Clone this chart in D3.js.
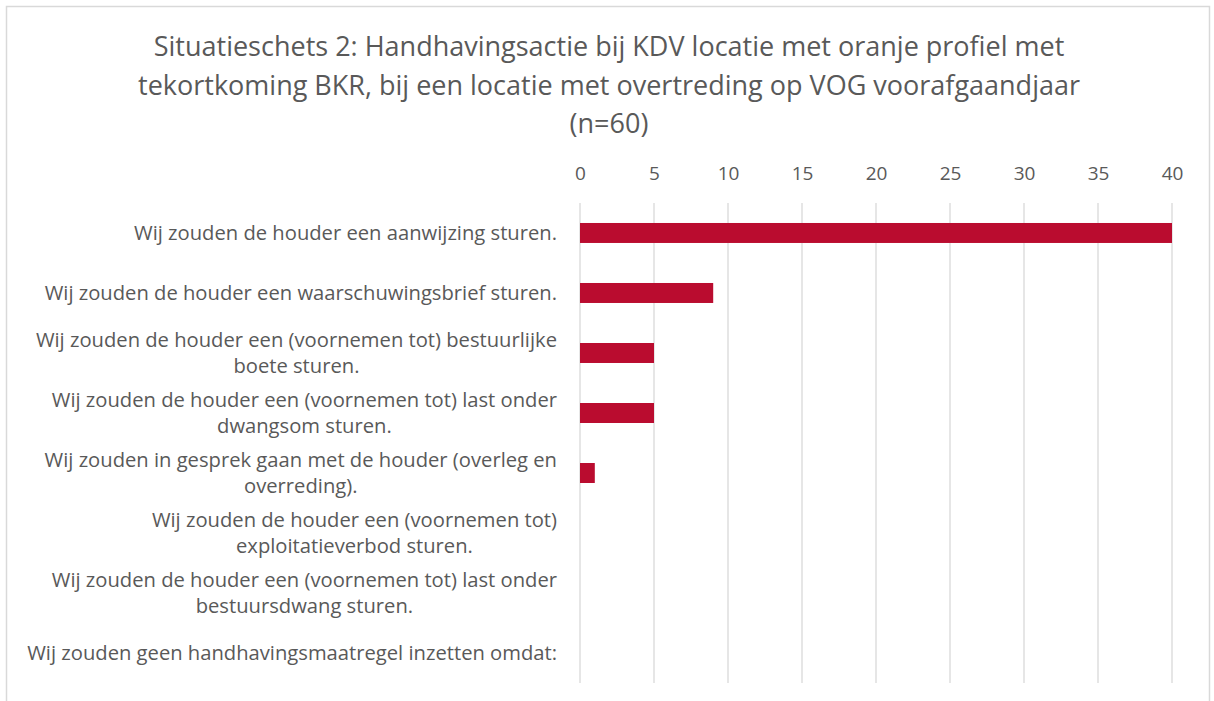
<!DOCTYPE html>
<html>
<head>
<meta charset="utf-8">
<script src="https://cdn.jsdelivr.net/npm/d3@7"></script>
<style>
  html, body { margin: 0; padding: 0; background: #fff; }
  svg { display: block; }
  text { font-family: "Open Sans", sans-serif; fill: #595959; }
</style>
</head>
<body>
<svg id="chart" width="1214" height="701"></svg>
<script>
// Response categories (each entry holds the wrapped label lines)
const categories = [
  ["Wij zouden de houder een aanwijzing sturen."],
  ["Wij zouden de houder een waarschuwingsbrief sturen."],
  ["Wij zouden de houder een (voornemen tot) bestuurlijke", "boete sturen."],
  ["Wij zouden de houder een (voornemen tot) last onder", "dwangsom sturen."],
  ["Wij zouden in gesprek gaan met de houder (overleg en", "overreding)."],
  ["Wij zouden de houder een (voornemen tot)", "exploitatieverbod sturen."],
  ["Wij zouden de houder een (voornemen tot) last onder", "bestuursdwang sturen."],
  ["Wij zouden geen handhavingsmaatregel inzetten omdat:"]
];
// Number of respondents per category
const values = [40, 9, 5, 5, 1, 0, 0, 0];
// Axis tick values
const ticks = [0, 5, 10, 15, 20, 25, 30, 35, 40];
const titleLines = [
  "Situatieschets 2: Handhavingsactie bij KDV locatie met oranje profiel met",
  "tekortkoming BKR, bij een locatie met overtreding op VOG voorafgaandjaar",
  "(n=60)"
];

const svg = d3.select("#chart");

// Chart frame
svg.append("rect")
  .attr("x", 6.5).attr("y", 6.5)
  .attr("width", 1203).attr("height", 710)
  .attr("fill", "#fff").attr("stroke", "#d9d9d9").attr("stroke-width", 1.5);

// Title
svg.append("g").selectAll("text").data(titleLines).join("text")
  .attr("x", 609)
  .attr("y", (d, i) => 56 + i * 38.5)
  .attr("text-anchor", "middle")
  .style("font-size", "27px")
  .text(d => d);

const plotTop = 203, plotBottom = 683, plotLeft = 580, plotRight = 1172;
const x = d3.scaleLinear().domain([0, 40]).range([plotLeft, plotRight]);
const y = d3.scaleBand()
  .domain(d3.range(categories.length))
  .range([plotTop, plotBottom])
  .paddingInner(0.667)
  .paddingOuter(0.333);

// Vertical gridlines
svg.append("g").selectAll("line").data(ticks).join("line")
  .attr("x1", d => x(d)).attr("x2", d => x(d))
  .attr("y1", plotTop).attr("y2", plotBottom)
  .attr("stroke", "#d9d9d9").attr("stroke-width", 1.3);

// Top axis labels
const axis = d3.axisTop(x).tickValues(ticks).tickSize(0).tickPadding(0);
const ax = svg.append("g").attr("transform", "translate(0,180)").call(axis);
ax.select(".domain").remove();
ax.selectAll("text").style("font-size", "19px").attr("fill", "#595959")
  .attr("font-family", "'Open Sans', sans-serif");

// Bars
svg.append("g").selectAll("rect").data(values).join("rect")
  .attr("x", x(0))
  .attr("y", (d, i) => y(i))
  .attr("width", d => x(d) - x(0))
  .attr("height", y.bandwidth())
  .attr("fill", "#ba0c2f")
  .style("display", d => d > 0 ? null : "none");

// Category labels: block right-aligned, lines centred within the block
const labelRight = 557;
const lineH = 25.5;
const lg = svg.append("g");
categories.forEach((lines, i) => {
  const cy = y(i) + y.bandwidth() / 2;
  const g = lg.append("g");
  const texts = lines.map((t, j) => g.append("text")
    .attr("y", cy + (j - (lines.length - 1) / 2) * lineH)
    .attr("dy", "0.35em")
    .style("font-size", "20.2px")
    .text(t));
  const widths = texts.map(t => t.node().getComputedTextLength());
  const maxW = d3.max(widths);
  texts.forEach(t => t.attr("x", labelRight - maxW / 2).attr("text-anchor", "middle"));
});
</script>
</body>
</html>
